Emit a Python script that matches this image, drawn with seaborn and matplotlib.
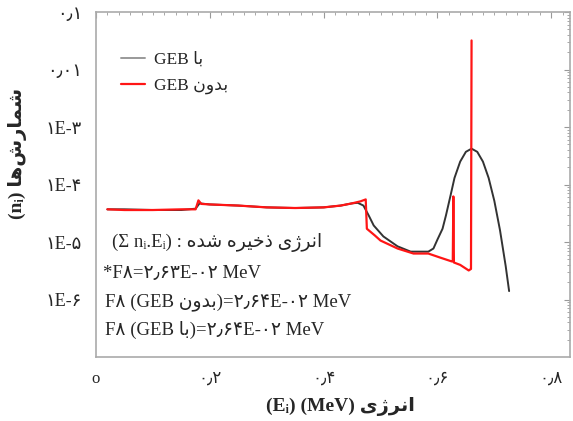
import matplotlib
matplotlib.use("Agg")
import matplotlib.pyplot as plt
import seaborn as sns
import pandas as pd
from matplotlib.ticker import FixedLocator, MultipleLocator, LogLocator, NullFormatter

# ---------------- data ----------------
energy_geb = [0.02, 0.05, 0.10, 0.15, 0.175, 0.182, 0.20, 0.25, 0.30, 0.35, 0.40, 0.43,
              0.45, 0.46, 0.47, 0.48, 0.488, 0.505, 0.53, 0.553, 0.584, 0.593, 0.600,
              0.609, 0.615, 0.623, 0.63, 0.64, 0.65, 0.66, 0.67, 0.68, 0.69, 0.70,
              0.71, 0.72, 0.726]
counts_geb = [3.7e-5, 3.7e-5, 3.6e-5, 3.6e-5, 3.8e-5, 4.7e-5, 4.5e-5, 4.3e-5, 4.0e-5,
              3.9e-5, 4.0e-5, 4.3e-5, 4.7e-5, 4.8e-5, 4.3e-5, 2.8e-5, 1.94e-5, 1.25e-5,
              8.4e-6, 6.8e-6, 6.8e-6, 7.7e-6, 1.1e-5, 1.7e-5, 2.9e-5, 6.4e-5, 1.3e-4,
              2.5e-4, 3.7e-4, 4.2e-4, 3.7e-4, 2.5e-4, 1.3e-4, 5.2e-5, 1.6e-5, 3.8e-6,
              1.4e-6]

energy_nogeb = [0.02, 0.05, 0.10, 0.15, 0.175, 0.18, 0.185, 0.20, 0.25, 0.30, 0.35,
                0.40, 0.43, 0.45, 0.465, 0.474, 0.476, 0.49, 0.50, 0.53, 0.558, 0.584,
                0.605, 0.625, 0.627, 0.628, 0.629, 0.64, 0.655, 0.659, 0.66]
counts_nogeb = [3.7e-5, 3.6e-5, 3.6e-5, 3.7e-5, 3.7e-5, 5.3e-5, 4.6e-5, 4.5e-5, 4.3e-5,
                4.0e-5, 3.9e-5, 4.0e-5, 4.3e-5, 4.7e-5, 5.1e-5, 5.5e-5, 1.7e-5, 1.3e-5,
                1.06e-5, 7.7e-6, 6.3e-6, 6.3e-6, 5.35e-6, 4.6e-6, 4.6e-6, 6.2e-5,
                4.4e-6, 4.0e-6, 3.2e-6, 3.4e-6, 3.2e-2]

x_ticks = [0.0, 0.2, 0.4, 0.6, 0.8]
x_tick_labels = ["o", "۰٫۲", "۰٫۴", "۰٫۶", "۰٫۸"]
y_ticks = [1e-1, 1e-2, 1e-3, 1e-4, 1e-5, 1e-6]
y_tick_labels = ["۰٫۱", "۰٫۰۱", "۱E-۳", "۱E-۴", "۱E-۵", "۱E-۶"]

# ---------------- simple Persian shaping (visual order) ----------------
FORMS = {  # isolated, final, initial, medial
    'ا': ('\uFE8D', '\uFE8E', None, None),
    'ب': ('\uFE8F', '\uFE90', '\uFE91', '\uFE92'),
    'د': ('\uFEA9', '\uFEAA', None, None),
    'ذ': ('\uFEAB', '\uFEAC', None, None),
    'ر': ('\uFEAD', '\uFEAE', None, None),
    'ژ': ('\uFB8A', '\uFB8B', None, None),
    'و': ('\uFEED', '\uFEEE', None, None),
    'ن': ('\uFEE5', '\uFEE6', '\uFEE7', '\uFEE8'),
    'ی': ('\uFBFC', '\uFBFD', '\uFBFE', '\uFBFF'),
    'خ': ('\uFEA5', '\uFEA6', '\uFEA7', '\uFEA8'),
    'ه': ('\uFEE9', '\uFEEA', '\uFEEB', '\uFEEC'),
    'ش': ('\uFEB5', '\uFEB6', '\uFEB7', '\uFEB8'),
    'م': ('\uFEE1', '\uFEE2', '\uFEE3', '\uFEE4'),
}


def fa(text):
    chars = list(text)
    out = []
    for i, c in enumerate(chars):
        if c not in FORMS:
            out.append(c)
            continue
        prev = chars[i - 1] if i > 0 else None
        nxt = chars[i + 1] if i + 1 < len(chars) else None
        jp = prev in FORMS and FORMS[prev][2] is not None
        jn = nxt in FORMS and FORMS[c][2] is not None
        iso, fin, ini, med = FORMS[c]
        if jp and jn:
            g = med
        elif jp:
            g = fin
        elif jn:
            g = ini
        else:
            g = iso
        out.append(g)
    return ''.join(reversed(out)).replace('\u200c', '')


# ---------------- plot ----------------
sns.set_style("white")
plt.rcParams['font.family'] = ['Liberation Serif', 'DejaVu Sans']
plt.rcParams['axes.unicode_minus'] = False

W, H = 573, 421
fig = plt.figure(figsize=(W / 100, H / 100), dpi=100)
ax = fig.add_axes([96 / W, 1 - 357 / H, (570 - 96) / W, (357 - 12) / H])

df_geb = pd.DataFrame({"E": energy_geb, "n": counts_geb})
df_nogeb = pd.DataFrame({"E": energy_nogeb, "n": counts_nogeb})

sns.lineplot(data=df_geb, x="E", y="n", ax=ax, color="#333333", lw=1.4,
             sort=False, estimator=None, label="GEB " + fa("با"))
sns.lineplot(data=df_nogeb, x="E", y="n", ax=ax, color="#ff1515", lw=1.6,
             sort=False, estimator=None, label="GEB " + fa("بدون"))

ax.set_yscale("log")
ax.set_xlim(0, 0.833)
ax.set_ylim(1e-7, 1e-1)

ax.xaxis.set_major_locator(FixedLocator(x_ticks))
ax.set_xticklabels(x_tick_labels, fontsize=12)
ax.xaxis.set_minor_locator(MultipleLocator(0.02))
ax.yaxis.set_major_locator(FixedLocator(y_ticks))
ax.set_yticklabels(y_tick_labels, fontsize=13)
ax.yaxis.set_minor_locator(LogLocator(base=10, subs=range(2, 10)))
ax.yaxis.set_minor_formatter(NullFormatter())

ax.tick_params(axis="both", which="both", direction="in", top=True, right=True,
               color="#999999")
ax.tick_params(axis="both", which="major", length=4, width=0.8, pad=10)
ax.tick_params(axis="both", which="minor", length=2.5, width=0.6)
for s in ax.spines.values():
    s.set_color("#aaaaaa")
    s.set_linewidth(1.2)

ax.set_xlabel("(Eᵢ) (MeV) " + fa("انرژی"), fontsize=14, fontweight="bold")
ax.xaxis.set_label_coords((340 - 96) / 474, -(397 - 357) / 345)
ax.set_ylabel("(nᵢ) " + fa("شمارش\u200cها"), fontsize=14, fontweight="bold")
ax.yaxis.set_label_coords((27 - 96) / 474, (357 - 153) / 345)

leg = ax.legend(loc="upper left", bbox_to_anchor=(0.02, 0.93), frameon=False,
                fontsize=12.5, handlelength=1.4, handletextpad=0.5, labelspacing=0.55)
leg.get_lines()[0].set_color("#999999")

def ftext(x, y, s, size=13.5):
    fig.text(x / W, 1 - y / H, s, fontsize=size, ha="left", va="center")

ftext(112, 242, "(Σ nᵢ.Eᵢ) : " + fa("انرژی ذخیره شده"))
ftext(103, 273, "*F۸=۲٫۶۳E-۰۲ MeV")
ftext(105, 302, "F۸ (GEB " + fa("بدون") + ")=۲٫۶۴E-۰۲ MeV")
ftext(105, 330, "F۸ (GEB " + fa("با") + ")=۲٫۶۴E-۰۲ MeV")

fig.savefig("out.png", dpi=100)
